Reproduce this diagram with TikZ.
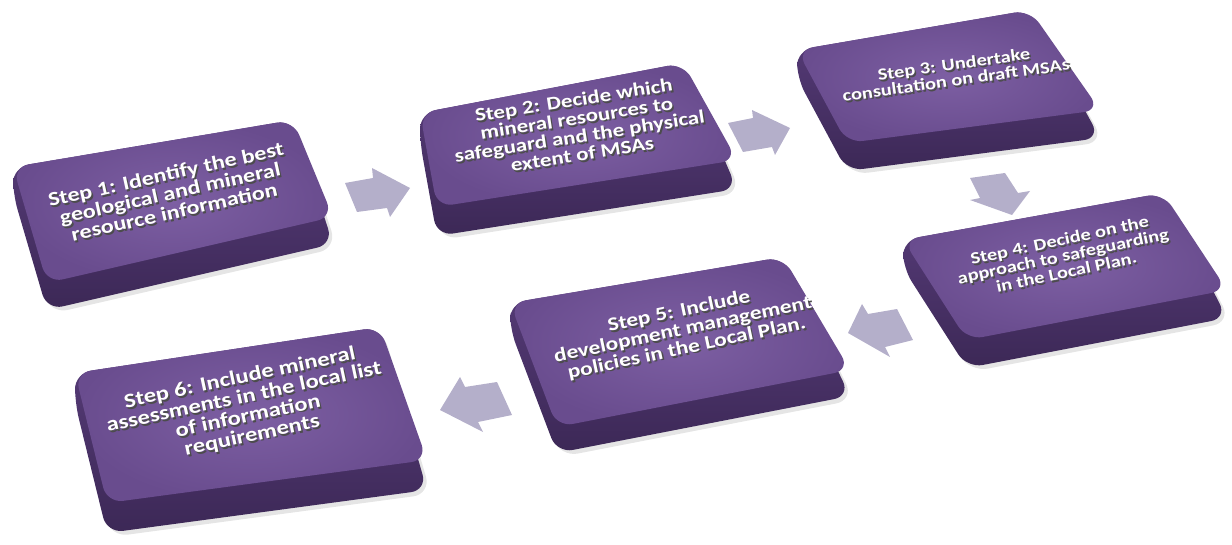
\documentclass[tikz,border=0pt]{standalone}
\usepackage{fontspec}
\setmainfont{Carlito}[FakeStretch=1.22]
\usetikzlibrary{calc}
\definecolor{faceIn}{HTML}{7D5FA3}
\definecolor{faceOut}{HTML}{694C8E}
\definecolor{sideTop}{HTML}{5A3E7D}
\definecolor{sideBot}{HTML}{3C2856}
\definecolor{arrowc}{HTML}{B4AFCA}
\definecolor{shadowc}{HTML}{4C4C4C}
\tikzset{
  faceshape/.style={rounded corners=16pt, inner color=faceIn, outer color=faceOut},
  sideshape/.style={rounded corners=16pt, top color=sideTop, bottom color=sideBot},
  dropshadow/.style={rounded corners=18pt, fill=black, opacity=0.10},
  blockarrow/.style={fill=arrowc},
  steptext/.style={font=\bfseries\fontsize{19}{18.5}\selectfont, text=white, align=center, inner sep=0pt},
  stepshadow/.style={steptext, text=shadowc}
}
\newcommand\drawstepbox[5]{%
  \coordinate (tl) at #1; \coordinate (tr) at #2;
  \coordinate (br) at #3; \coordinate (bl) at #4;
  \fill[dropshadow] ($(tl)+(3,#5+3)$) -- ($(tr)+(3,3)$) -- ($(br)+(4,#5+4)$) -- ($(bl)+(3,#5+4)$) -- cycle;
  \shade[sideshape] (tl) -- (tr) -- ($(br)+(0,#5)$) -- ($(bl)+(0,#5)$) -- ($(tl)+(0,#5)$) -- cycle;
  \shade[faceshape] (tl) -- (tr) -- (br) -- (bl) -- cycle;
}
\newcommand\steplabel[5]{%
  \node[stepshadow, scale=#4, rotate=#3] (#1s) at ($#2+(1.6,1.9)$) {#5};
  \node[steptext, scale=#4, rotate=#3] (#1) at #2 {#5};
}
\begin{document}
\begin{tikzpicture}[x=1pt, y=-1pt]
\useasboundingbox (0,0) rectangle (1232,545);
% boxes
\drawstepbox{(13,167)}{(293,120)}{(333,217)}{(47,283)}{27}
\drawstepbox{(420,113)}{(683,63)}{(737,160)}{(437,207)}{29}
\drawstepbox{(797,50)}{(1030,10)}{(1100,110)}{(847,143)}{28}
\drawstepbox{(903,240)}{(1163,193)}{(1227,290)}{(967,340)}{28}
\drawstepbox{(510,303)}{(783,257)}{(850,370)}{(557,427)}{26}
\drawstepbox{(75,373)}{(380,327)}{(427,460)}{(107,503)}{30}
% labels
\steplabel{t1}{(170,193)}{12.5}{1.04}{Step 1: Identify the best\\geological and mineral\\resource information}
\steplabel{t2}{(578,127)}{9}{0.99}{Step 2: Decide which\\mineral resources to\\safeguard and the physical\\extent of MSAs}
\steplabel{t3}{(955,72)}{8}{0.88}{Step 3: Undertake\\consultation on draft MSAs}
\steplabel{t4}{(1063,256)}{12}{0.88}{Step 4: Decide on the\\approach to safeguarding\\in the Local Plan.}
\steplabel{t5}{(683,330)}{12}{1.01}{Step 5: Include\\development management\\policies in the Local Plan.}
\steplabel{t6}{(246,407)}{12}{1.06}{Step 6: Include mineral\\assessments in the local list\\of information\\requirements}
% arrows
\fill[blockarrow] (345,183) -- (373,178) -- (372,168) -- (410,188) -- (390,217) -- (387,208) -- (357,212) -- cycle;
\fill[blockarrow] (728,123) -- (753,118) -- (752,110) -- (790,128) -- (775,155) -- (772,147) -- (743,152) -- cycle;
\fill[blockarrow] (970,178) -- (1005,173) -- (1018,193) -- (1030,191) -- (1012,215) -- (970,200) -- (980,198) -- cycle;
\fill[blockarrow] (848,333) -- (862,304) -- (868,314) -- (897,309) -- (913,340) -- (885,347) -- (890,357) -- cycle;
\fill[blockarrow] (440,410) -- (460,377) -- (465,387) -- (497,382) -- (512,415) -- (478,422) -- (483,432) -- cycle;
\end{tikzpicture}
\end{document}
